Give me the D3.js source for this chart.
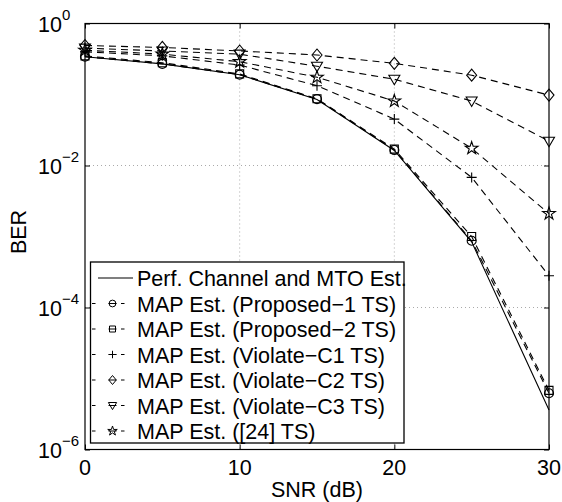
<!DOCTYPE html>
<html>
<head>
<meta charset="utf-8">
<script src="https://cdn.jsdelivr.net/npm/d3@7"></script>
<style>
  body { margin: 0; background: #fff; }
  text { font-family: "Liberation Sans", Arial, Helvetica, sans-serif; fill: #000; }
</style>
</head>
<body>
<div id="chart"></div>
<script>
// SNR points (dB)
var snr = [0, 5, 10, 15, 20, 25, 30];

// BER values
var perfBer      = [0.34, 0.27, 0.19, 0.085, 0.0163, 8.4e-4, 3.6e-6];
var proposed1Ber = [0.34, 0.27, 0.19, 0.086, 0.0165, 8.7e-4, 6.2e-6];
var proposed2Ber = [0.35, 0.28, 0.195, 0.087, 0.017, 1.0e-3, 6.8e-6];
var violateC1Ber = [0.40, 0.35, 0.26, 0.133, 0.045, 0.0068, 2.8e-4];
var violateC2Ber = [0.49, 0.46, 0.41, 0.36, 0.275, 0.187, 0.098];
var violateC3Ber = [0.45, 0.41, 0.37, 0.25, 0.164, 0.081, 0.022];
var ref24Ber     = [0.42, 0.37, 0.29, 0.175, 0.081, 0.0175, 0.0021];

var seriesNames = [
  "Perf. Channel and MTO Est.",
  "MAP Est. (Proposed\u22121 TS)",
  "MAP Est. (Proposed\u22122 TS)",
  "MAP Est. (Violate\u2212C1 TS)",
  "MAP Est. (Violate\u2212C2 TS)",
  "MAP Est. (Violate\u2212C3 TS)",
  "MAP Est. ([24] TS)"
];
var seriesMarkers = ["none", "circle", "square", "plus", "diamond", "triangle", "star"];
var seriesValues = [perfBer, proposed1Ber, proposed2Ber, violateC1Ber, violateC2Ber, violateC3Ber, ref24Ber];

var xTicks = [0, 10, 20, 30];
var yTickExps = [0, -2, -4, -6];

var W = 562, H = 502;
var margin = {top: 23.5, right: 13, bottom: 52.5, left: 85};
var width = W - margin.left - margin.right,
    height = H - margin.top - margin.bottom;
var fontSize = "21.5px";

var svg = d3.select("#chart").append("svg")
  .attr("width", W)
  .attr("height", H);

var g = svg.append("g")
  .attr("transform", "translate(" + margin.left + "," + margin.top + ")");

var x = d3.scaleLinear().domain([0, 30]).range([0, width]);
var y = d3.scaleLog().domain([1e-6, 1]).range([height, 0]);

// grid (dotted, only at labelled ticks)
g.selectAll(".vgrid").data([10, 20]).enter().append("line")
  .attr("x1", function(d) { return x(d); })
  .attr("x2", function(d) { return x(d); })
  .attr("y1", 0).attr("y2", height)
  .attr("stroke", "#aaa").attr("stroke-width", 1)
  .attr("stroke-dasharray", "1,3");

g.selectAll(".hgrid").data([1e-2, 1e-4]).enter().append("line")
  .attr("x1", 0).attr("x2", width)
  .attr("y1", function(d) { return y(d); })
  .attr("y2", function(d) { return y(d); })
  .attr("stroke", "#aaa").attr("stroke-width", 1)
  .attr("stroke-dasharray", "1,3");

// axes with inward ticks
var xAxis = d3.axisBottom(x).tickValues(xTicks).tickSizeInner(-5).tickSizeOuter(0).tickFormat("");
var xAxisTop = d3.axisTop(x).tickValues(xTicks).tickSizeInner(-5).tickSizeOuter(0).tickFormat("");
var yVals = yTickExps.map(function(e) { return Math.pow(10, e); });
var yAxis = d3.axisLeft(y).tickValues(yVals).tickSizeInner(-5).tickSizeOuter(0).tickFormat("");
var yAxisRight = d3.axisRight(y).tickValues(yVals).tickSizeInner(-5).tickSizeOuter(0).tickFormat("");

g.append("g").attr("transform", "translate(0," + height + ")").call(xAxis);
g.append("g").call(xAxisTop);
g.append("g").call(yAxis);
g.append("g").attr("transform", "translate(" + width + ",0)").call(yAxisRight);
g.selectAll(".domain").remove();
g.selectAll(".tick line").attr("stroke", "#000");

g.append("rect")
  .attr("x", 0).attr("y", 0)
  .attr("width", width).attr("height", height)
  .attr("fill", "none").attr("stroke", "#000").attr("stroke-width", 1.2);

// tick labels
g.selectAll(".xlab").data(xTicks).enter().append("text")
  .attr("x", function(d) { return x(d); })
  .attr("y", height + 25)
  .attr("text-anchor", "middle")
  .style("font-size", fontSize)
  .text(function(d) { return d; });

var ylab = g.selectAll(".ylab").data(yTickExps).enter().append("g")
  .attr("transform", function(d) { return "translate(-23," + (y(Math.pow(10, d)) + 8) + ")"; });
ylab.append("text")
  .attr("text-anchor", "end")
  .style("font-size", fontSize)
  .text("10");
ylab.append("text")
  .attr("x", 0).attr("y", -12)
  .style("font-size", "15px")
  .text(function(d) { return d < 0 ? "\u2212" + (-d) : d; });

// axis titles
svg.append("text")
  .attr("x", margin.left + width / 2)
  .attr("y", 497)
  .attr("text-anchor", "middle")
  .style("font-size", fontSize)
  .text("SNR (dB)");

svg.append("text")
  .attr("transform", "translate(26,232) rotate(-90)")
  .attr("text-anchor", "middle")
  .style("font-size", fontSize)
  .text("BER");

// marker shapes
function markerPath(type, s) {
  s = s || 1;
  if (type === "circle") return d3.symbol().type(d3.symbolCircle).size(64 * s * s)();
  if (type === "square") return "M" + (-4 * s) + "," + (-4 * s) + "h" + (8 * s) + "v" + (8 * s) + "h" + (-8 * s) + "Z";
  if (type === "plus") return "M" + (-5 * s) + ",0H" + (5 * s) + "M0," + (-5 * s) + "V" + (5 * s);
  if (type === "diamond") return "M0," + (-6 * s) + "L" + (5 * s) + ",0L0," + (6 * s) + "L" + (-5 * s) + ",0Z";
  if (type === "triangle") return "M" + (-5.5 * s) + "," + (-4 * s) + "L" + (5.5 * s) + "," + (-4 * s) + "L0," + (5.5 * s) + "Z";
  if (type === "star") return d3.symbol().type(d3.symbolStar).size(50 * s * s)();
  return null;
}

var line = d3.line()
  .x(function(d, i) { return x(snr[i]); })
  .y(function(d) { return y(d); });

seriesValues.forEach(function(vals, k) {
  g.append("path")
    .datum(vals)
    .attr("d", line)
    .attr("fill", "none")
    .attr("stroke", "#000")
    .attr("stroke-width", 1.1)
    .attr("stroke-dasharray", k === 0 ? null : "7,5");

  if (seriesMarkers[k] !== "none") {
    g.selectAll(".m" + k).data(vals).enter().append("path")
      .attr("transform", function(d, i) { return "translate(" + x(snr[i]) + "," + y(d) + ")"; })
      .attr("d", markerPath(seriesMarkers[k]))
      .attr("fill", "none")
      .attr("stroke", "#000")
      .attr("stroke-width", 1.1);
  }
});

// legend
var legX = 90.5, legY = 262, legW = 313.5, legH = 181, rowH = 25.5;
var legend = svg.append("g");
legend.append("rect")
  .attr("x", legX).attr("y", legY)
  .attr("width", legW).attr("height", legH)
  .attr("fill", "#fff").attr("stroke", "#000").attr("stroke-width", 1.3);

var rows = legend.selectAll(".row").data(seriesNames).enter().append("g")
  .attr("transform", function(d, i) { return "translate(0," + (legY + 16 + i * rowH) + ")"; });

// dashed sample: short dash, segment through the marker, short dash
rows.append("line")
  .attr("x1", function(d, i) { return i === 0 ? 98 : 92; })
  .attr("x2", function(d, i) { return i === 0 ? 133 : 125; })
  .attr("y1", 0).attr("y2", 0)
  .attr("stroke", "#000").attr("stroke-width", 1.1)
  .attr("stroke-dasharray", function(d, i) { return i === 0 ? null : "3.5,13,8,4.5,3.5"; });

rows.append("path")
  .attr("transform", "translate(112.5,0)")
  .attr("d", function(d, i) { return markerPath(seriesMarkers[i], 0.75); })
  .attr("fill", "none")
  .attr("stroke", "#000")
  .attr("stroke-width", 1);

rows.append("text")
  .attr("x", 137)
  .attr("y", 8)
  .style("font-size", fontSize)
  .text(function(d) { return d; });
</script>
</body>
</html>
